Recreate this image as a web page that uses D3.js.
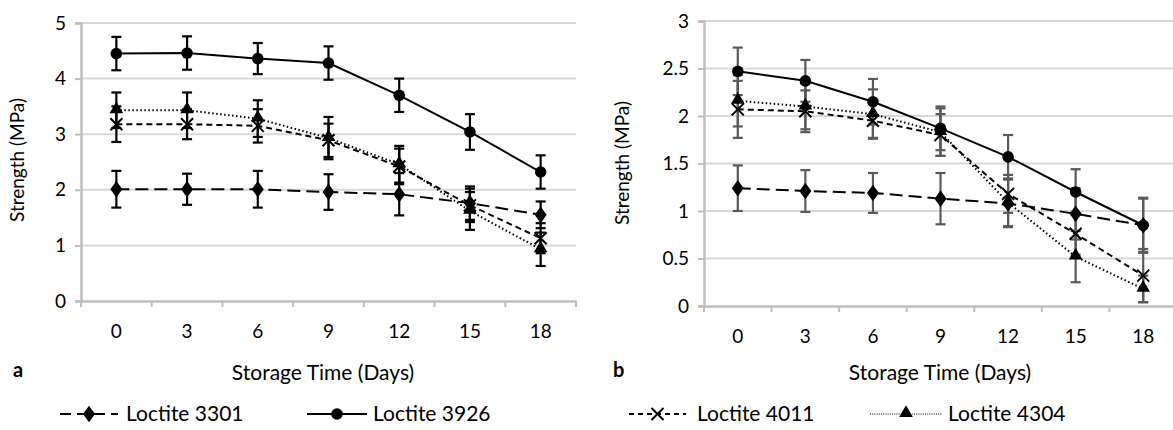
<!doctype html>
<html lang="en">
<head>
<meta charset="UTF-8">
<title>Strength vs storage time</title>
<script src="https://d3js.org/d3.v7.min.js"></script>
<style>
  body { margin: 0; background: #fff; }
  text { font-family: Lato, "Open Sans", sans-serif; fill: #000; }
</style>
</head>
<body>
<div id="chart"></div>
<script>
// storage time categories
var days = ["0", "3", "6", "9", "12", "15", "18"];
var names = ["Loctite 3301", "Loctite 3926", "Loctite 4011", "Loctite 4304"];

// panel a
var a3301 = [2.01, 2.01, 2.01, 1.96, 1.92, 1.76, 1.55];
var a3926 = [4.45, 4.46, 4.36, 4.28, 3.70, 3.04, 2.32];
var a4011 = [3.18, 3.18, 3.15, 2.89, 2.42, 1.72, 1.13];
var a4304 = [3.43, 3.43, 3.28, 2.93, 2.46, 1.62, 0.93];
var aErr3301 = [0.33, 0.28, 0.33, 0.32, 0.38, 0.30, 0.24];
var aErr3926 = [0.30, 0.30, 0.28, 0.30, 0.30, 0.32, 0.30];
var aErr4011 = [0.32, 0.27, 0.30, 0.30, 0.32, 0.30, 0.27];
var aErr4304 = [0.32, 0.32, 0.33, 0.38, 0.33, 0.34, 0.30];
var aTicks = [0, 1, 2, 3, 4, 5];

// panel b
var b3301 = [1.24, 1.21, 1.19, 1.13, 1.08, 0.97, 0.85];
var b3926 = [2.47, 2.37, 2.15, 1.87, 1.57, 1.20, 0.85];
var b4011 = [2.07, 2.05, 1.95, 1.80, 1.18, 0.76, 0.32];
var b4304 = [2.16, 2.10, 2.02, 1.83, 1.09, 0.52, 0.18];
var bErr3301 = [0.24, 0.22, 0.21, 0.27, 0.25, 0.27, 0.28];
var bErr3926 = [0.25, 0.22, 0.24, 0.23, 0.23, 0.24, 0.29];
var bErr4011 = [0.30, 0.22, 0.18, 0.22, 0.20, 0.22, 0.28];
var bErr4304 = [0.27, 0.24, 0.26, 0.25, 0.25, 0.27, 0.14];
var bTicks = [0, 0.5, 1, 1.5, 2, 2.5, 3];

var svg = d3.select("#chart").append("svg")
    .attr("width", 1173).attr("height", 430);

var styles = [
    {dash: "13,6", marker: "diamond"},
    {dash: null, marker: "circle"},
    {dash: "6,4", marker: "x"},
    {dash: "1.5,2.5", marker: "triangle"}
];

function drawMarker(g, kind, x, y) {
    if (kind == "diamond") {
        g.append("path").attr("d", d3.symbol(d3.symbolDiamond, 80)())
            .attr("transform", "translate(" + x + "," + y + ") scale(1.25,1)");
    } else if (kind == "circle") {
        g.append("circle").attr("cx", x).attr("cy", y).attr("r", 5.8);
    } else if (kind == "triangle") {
        g.append("path").attr("d", d3.symbol(d3.symbolTriangle, 80)())
            .attr("transform", "translate(" + x + "," + (y - 1) + ")");
    } else {
        g.append("path")
            .attr("d", "M" + (x - 6) + "," + (y - 6) + "L" + (x + 6) + "," + (y + 6) +
                "M" + (x + 6) + "," + (y - 6) + "L" + (x - 6) + "," + (y + 6))
            .attr("fill", "none").attr("stroke", "#000").attr("stroke-width", 2);
    }
}

function drawPanel(opt) {
    var x = d3.scaleBand().domain(days).range([opt.left, opt.right]);
    var y = d3.scaleLinear().domain([0, opt.max]).range([opt.bottom, opt.top]);
    var g = svg.append("g");

    // gridlines
    g.selectAll(".grid").data(opt.ticks.slice(1)).enter().append("line")
        .attr("x1", opt.left).attr("x2", opt.right)
        .attr("y1", function(d) { return y(d); }).attr("y2", function(d) { return y(d); })
        .attr("stroke", "#d9d9d9").attr("stroke-width", 2);

    // y axis
    var ya = g.append("g").attr("transform", "translate(" + opt.left + ",0)")
        .call(d3.axisLeft(y).tickValues(opt.ticks).tickSize(6).tickPadding(9)
            .tickFormat(function(d) { return String(d); }));
    ya.select(".domain").attr("stroke", "#bfbfbf").attr("stroke-width", 2.5);
    ya.selectAll(".tick line").attr("stroke", "#bfbfbf").attr("stroke-width", 2);
    ya.selectAll(".tick text").attr("font-size", 19).attr("font-family", "Lato");

    // x axis
    var xa = g.append("g").attr("transform", "translate(0," + opt.bottom + ")")
        .call(d3.axisBottom(x).tickSize(0).tickPadding(opt.xPad));
    xa.select(".domain").attr("stroke", "#bfbfbf").attr("stroke-width", 2.5);
    xa.selectAll(".tick text").attr("font-size", 19).attr("font-family", "Lato");
    var edges = days.map(function(d) { return x(d); }).concat([opt.right]);
    xa.selectAll(".edge").data(edges).enter().append("line")
        .attr("x1", function(d) { return d; }).attr("x2", function(d) { return d; })
        .attr("y1", 0).attr("y2", 6)
        .attr("stroke", "#bfbfbf").attr("stroke-width", 2);

    // titles
    g.append("text").attr("x", opt.titleX).attr("y", 380)
        .attr("text-anchor", "middle").attr("font-size", 21).text("Storage Time (Days)");
    g.append("text").attr("transform", "translate(" + opt.yTitleX + "," + opt.yTitleY + ") rotate(-90)")
        .attr("text-anchor", "middle").attr("font-size", 19).text("Strength (MPa)");
    g.append("text").attr("x", opt.tagX).attr("y", 377)
        .attr("font-size", 20).attr("font-weight", "bold").text(opt.tag);

    var cx = function(i) { return x(days[i]) + x.bandwidth() / 2; };
    var line = d3.line().x(function(d, i) { return cx(i); }).y(function(d) { return y(d); });

    // error bars
    opt.series.forEach(function(s, k) {
        var eg = g.append("g").attr("stroke", opt.errColor).attr("stroke-width", 2.2);
        s.forEach(function(v, i) {
            var e = opt.errs[k][i];
            eg.append("line").attr("x1", cx(i)).attr("x2", cx(i)).attr("y1", y(v - e)).attr("y2", y(v + e));
            [v - e, v + e].forEach(function(t) {
                eg.append("line").attr("x1", cx(i) - 5).attr("x2", cx(i) + 5).attr("y1", y(t)).attr("y2", y(t));
            });
        });
    });

    // lines and markers
    opt.series.forEach(function(s, k) {
        g.append("path").datum(s).attr("d", line)
            .attr("fill", "none").attr("stroke", "#000").attr("stroke-width", 2)
            .attr("stroke-dasharray", styles[k].dash);
        var mg = g.append("g").attr("fill", "#000");
        s.forEach(function(v, i) { drawMarker(mg, styles[k].marker, cx(i), y(v)); });
    });
}

drawPanel({
    left: 81, right: 576, top: 23, bottom: 301, max: 5, ticks: aTicks,
    series: [a3301, a3926, a4011, a4304], errs: [aErr3301, aErr3926, aErr4011, aErr4304],
    errColor: "#000", xPad: 24, yTitleX: 24, yTitleY: 160, titleX: 323, tag: "a", tagX: 13
});
drawPanel({
    left: 704, right: 1177, top: 21, bottom: 306, max: 3, ticks: bTicks,
    series: [b3301, b3926, b4011, b4304], errs: [bErr3301, bErr3926, bErr4011, bErr4304],
    errColor: "#595959", xPad: 24, yTitleX: 629, yTitleY: 163, titleX: 940, tag: "b", tagX: 613
});

// legend
var legendPos = [
    {x1: 60, x2: 118, tx: 126},
    {x1: 307, x2: 367, tx: 373},
    {x1: 629, x2: 686, tx: 697},
    {x1: 870, x2: 942, tx: 948}
];
var lg = svg.append("g");
names.forEach(function(n, k) {
    var p = legendPos[k], ly = 414;
    lg.append("line").attr("x1", p.x1).attr("x2", p.x2).attr("y1", ly).attr("y2", ly)
        .attr("stroke", "#000").attr("stroke-width", k == 3 ? 1.2 : 2)
        .attr("stroke-dasharray", k == 0 ? "11,6" : k == 2 ? "5,4" : k == 3 ? "1,1.2" : null);
    var mg = lg.append("g").attr("fill", "#000");
    drawMarker(mg, styles[k].marker, (p.x1 + p.x2) / 2, ly);
    lg.append("text").attr("x", p.tx).attr("y", ly).attr("dy", "0.35em")
        .attr("font-size", 21).text(n);
});
</script>
</body>
</html>
